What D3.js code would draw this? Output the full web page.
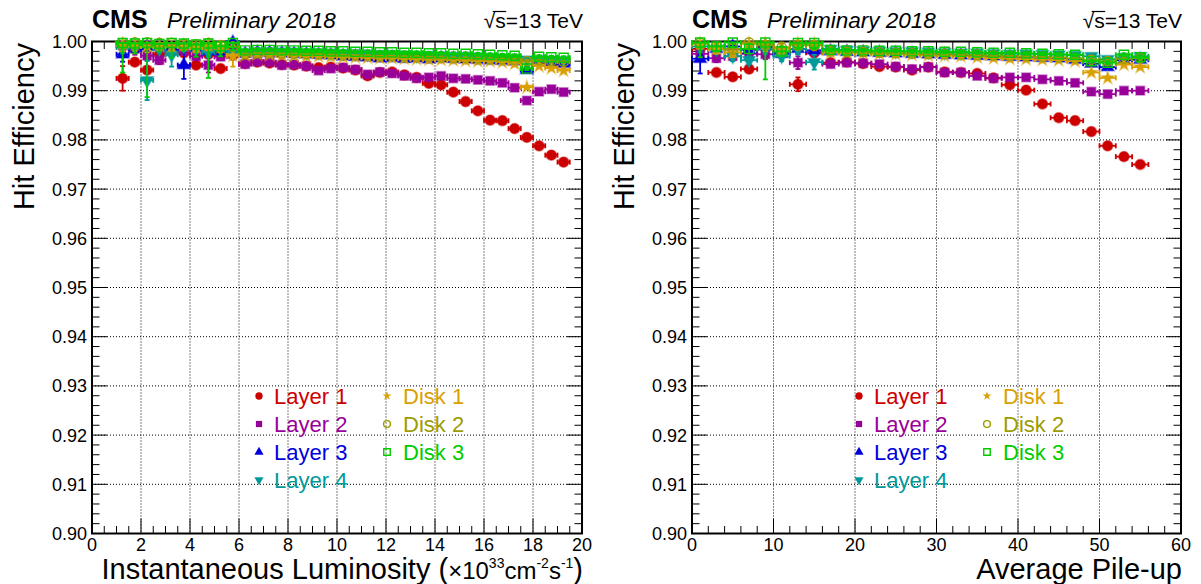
<!DOCTYPE html>
<html><head><meta charset="utf-8">
<script src="https://cdn.jsdelivr.net/npm/d3@7"></script>
<style>
body{margin:0;background:#fff}
text{font-family:"Liberation Sans",Arial,Helvetica,sans-serif}
</style>
</head><body>
<svg id="c" width="1201" height="584"></svg>
<script>
// ---------------- DATA ----------------
const seriesNames=["Layer 1","Layer 2","Layer 3","Layer 4","Disk 1","Disk 2","Disk 3"];
const seriesColors=["#cc0000","#990099","#0000dd","#00999a","#d9a000","#9c9c00","#00cc00"];
const seriesShapes=["circle","square","triangle","triangleDown","star","openCircle","openSquare"];

const yTicksLabels=["0.90","0.91","0.92","0.93","0.94","0.95","0.96","0.97","0.98","0.99","1.00"];

// Left panel: instantaneous luminosity bins (x10^33 cm^-2 s^-1)
const lumiBins=[1.25,1.75,2.25,2.75,3.25,3.75,4.25,4.75,5.25,5.75,6.25,6.75,7.25,7.75,8.25,8.75,9.25,9.75,10.25,10.75,11.25,11.75,12.25,12.75,13.25,13.75,14.25,14.75,15.25,15.75,16.25,16.75,17.25,17.75,18.25,18.75,19.25];
const lumiLayer1=[.9925,.9958,.9942,.9974,.9979,.9977,.9952,.9974,.9945,.9972,.9955,.9958,.9956,.9953,.9952,.9950,.9947,.9948,.9946,.9942,.9930,.9937,.9938,.9932,.9927,.9915,.9912,.9897,.9878,.9859,.9840,.9839,.9823,.9805,.9788,.9769,.9755];
const lumiLayer1Err=[.0025,.0006,.0005,.0008,.0006,.0007,.0005,.0006,.0004,.0005,.0002,.0002,.0002,.0002,.0002,.0002,.0002,.0002,.0002,.0002,.0002,.0002,.0002,.0002,.0002,.0002,.0002,.0002,.0002,.0002,.0002,.0002,.0002,.0002,.0002,.0002,.0002];
const lumiLayer2=[.9992,.9985,.9971,.9962,.9985,.9981,.9970,.9952,.9969,.9978,.9954,.9959,.9958,.9952,.9953,.9950,.9941,.9945,.9947,.9943,.9933,.9938,.9935,.9930,.9925,.9927,.9930,.9925,.9924,.9922,.9920,.9916,.9906,.9880,.9898,.9903,.9897];
const lumiLayer2Err=[.0020,.0012,.0010,.0008,.0010,.0009,.0008,.0015,.0007,.0006,.0002,.0002,.0002,.0002,.0002,.0002,.0002,.0002,.0002,.0002,.0002,.0002,.0002,.0002,.0002,.0002,.0002,.0002,.0002,.0002,.0002,.0002,.0002,.0002,.0002,.0002,.0002];
const lumiLayer3=[.9974,.9986,.9990,.9990,.9985,.9952,.9987,.9980,.9980,.9998,.9975,.9978,.9977,.9976,.9975,.9974,.9973,.9972,.9970,.9969,.9968,.9966,.9967,.9965,.9966,.9964,.9966,.9965,.9964,.9963,.9962,.9961,.9960,.9942,.9958,.9957,.9955];
const lumiLayer3Err=[.0015,.0008,.0010,.0008,.0010,.0028,.0008,.0008,.0007,.0006,.0003,.0003,.0003,.0003,.0003,.0003,.0003,.0003,.0003,.0003,.0003,.0003,.0003,.0003,.0003,.0003,.0003,.0003,.0003,.0003,.0003,.0003,.0003,.0003,.0003,.0003,.0003];
const lumiLayer4=[.9988,.9990,.9921,.9985,.9973,.9990,.9985,.9978,.9985,.9975,.9978,.9980,.9980,.9979,.9979,.9978,.9978,.9977,.9976,.9976,.9975,.9974,.9974,.9973,.9972,.9972,.9971,.9970,.9970,.9969,.9968,.9967,.9966,.9963,.9964,.9963,.9962];
const lumiLayer4Err=[.0012,.0010,.0040,.0008,.0024,.0009,.0008,.0010,.0007,.0008,.0003,.0003,.0003,.0003,.0003,.0003,.0003,.0003,.0003,.0003,.0003,.0003,.0003,.0003,.0003,.0003,.0003,.0003,.0003,.0003,.0003,.0003,.0003,.0003,.0003,.0003,.0003];
const lumiDisk1=[.9995,.9993,.9990,.9992,.9990,.9992,.9988,.9992,.9988,.9971,.9972,.9974,.9973,.9972,.9971,.9970,.9970,.9969,.9968,.9968,.9967,.9966,.9966,.9965,.9964,.9963,.9963,.9962,.9961,.9960,.9960,.9958,.9955,.9907,.9950,.9946,.9941];
const lumiDisk1Err=[.0015,.0012,.0012,.0010,.0010,.0010,.0010,.0010,.0010,.0022,.0003,.0003,.0003,.0003,.0003,.0003,.0003,.0003,.0003,.0003,.0003,.0003,.0003,.0003,.0003,.0003,.0003,.0003,.0003,.0003,.0003,.0003,.0003,.0003,.0003,.0003,.0003];
const lumiDisk2=[.9997,.9998,.9998,.9997,.9997,.9995,.9994,.9997,.9992,.9990,.9975,.9977,.9977,.9976,.9976,.9975,.9975,.9974,.9973,.9973,.9972,.9971,.9971,.9970,.9969,.9969,.9968,.9967,.9967,.9966,.9965,.9964,.9963,.9960,.9962,.9960,.9959];
const lumiDisk2Err=[.0012,.0010,.0010,.0010,.0010,.0010,.0010,.0010,.0010,.0010,.0003,.0003,.0003,.0003,.0003,.0003,.0003,.0003,.0003,.0003,.0003,.0003,.0003,.0003,.0003,.0003,.0003,.0003,.0003,.0003,.0003,.0003,.0003,.0003,.0003,.0003,.0003];
const lumiDisk3=[.9997,.9996,.9997,.9995,.9997,.9996,.9994,.9996,.9990,.9997,.9982,.9983,.9983,.9982,.9982,.9981,.9981,.9980,.9980,.9979,.9979,.9978,.9978,.9977,.9977,.9976,.9976,.9975,.9975,.9974,.9973,.9972,.9971,.9945,.9969,.9968,.9967];
const lumiDisk3Err=[.0060,.0020,.0110,.0015,.0030,.0015,.0025,.0070,.0020,.0015,.0003,.0003,.0003,.0003,.0003,.0003,.0003,.0003,.0003,.0003,.0003,.0003,.0003,.0003,.0003,.0003,.0003,.0003,.0003,.0003,.0003,.0003,.0003,.0003,.0003,.0003,.0003];

// Right panel: average pile-up bins
const puBins=[1,3,5,7,9,11,13,15,17,19,21,23,25,27,29,31,33,35,37,39,41,43,45,47,49,51,53,55];
const puLayer1=[.9985,.9937,.9928,.9944,.9987,.9979,.9913,.9977,.9957,.9958,.9955,.9949,.9948,.9942,.9948,.9938,.9937,.9935,.9926,.9912,.9901,.9873,.9845,.9839,.9817,.9788,.9766,.9750];
const puLayer1Err=[.0015,.0005,.0005,.0006,.0010,.0008,.0014,.0008,.0002,.0002,.0002,.0002,.0002,.0002,.0002,.0002,.0002,.0002,.0002,.0002,.0002,.0002,.0002,.0002,.0002,.0002,.0002,.0002];
const puLayer2=[.9975,.9966,.9970,.9975,.9974,.9978,.9957,.9981,.9954,.9957,.9956,.9954,.9949,.9944,.9948,.9937,.9937,.9930,.9925,.9927,.9927,.9923,.9920,.9916,.9898,.9893,.9900,.9900];
const puLayer2Err=[.0010,.0008,.0008,.0008,.0010,.0008,.0013,.0010,.0002,.0002,.0002,.0002,.0002,.0002,.0002,.0002,.0002,.0002,.0002,.0002,.0002,.0002,.0002,.0002,.0002,.0002,.0002,.0002];
const puLayer3=[.9965,.9985,.9990,.9983,.9990,.9975,.9985,.9982,.9980,.9979,.9978,.9977,.9976,.9975,.9974,.9973,.9972,.9971,.9970,.9969,.9968,.9967,.9966,.9963,.9955,.9948,.9962,.9963];
const puLayer3Err=[.0030,.0010,.0008,.0008,.0010,.0008,.0010,.0008,.0003,.0003,.0003,.0003,.0003,.0003,.0003,.0003,.0003,.0003,.0003,.0003,.0003,.0003,.0003,.0003,.0003,.0003,.0003,.0003];
const puLayer4=[.9990,.9985,.9970,.9962,.9985,.9970,.9985,.9958,.9985,.9983,.9982,.9981,.9980,.9980,.9979,.9978,.9977,.9977,.9976,.9975,.9975,.9974,.9973,.9972,.9970,.9964,.9968,.9970];
const puLayer4Err=[.0012,.0010,.0010,.0008,.0010,.0010,.0010,.0015,.0003,.0003,.0003,.0003,.0003,.0003,.0003,.0003,.0003,.0003,.0003,.0003,.0003,.0003,.0003,.0003,.0003,.0003,.0003,.0003];
const puDisk1=[.9995,.9985,.9978,.9995,.9995,.9985,.9995,.9995,.9978,.9977,.9976,.9975,.9974,.9973,.9972,.9971,.9970,.9968,.9966,.9965,.9964,.9963,.9962,.9960,.9937,.9926,.9953,.9948];
const puDisk1Err=[.0010,.0010,.0010,.0010,.0015,.0010,.0010,.0010,.0003,.0003,.0003,.0003,.0003,.0003,.0003,.0003,.0003,.0003,.0003,.0003,.0003,.0003,.0003,.0003,.0003,.0003,.0003,.0003];
const puDisk2=[.9997,.9990,.9985,.9998,.9993,.9988,.9993,.9992,.9980,.9979,.9979,.9978,.9977,.9976,.9975,.9975,.9974,.9973,.9972,.9971,.9970,.9969,.9968,.9966,.9963,.9960,.9965,.9966];
const puDisk2Err=[.0010,.0010,.0010,.0010,.0010,.0010,.0010,.0010,.0003,.0003,.0003,.0003,.0003,.0003,.0003,.0003,.0003,.0003,.0003,.0003,.0003,.0003,.0003,.0003,.0003,.0003,.0003,.0003];
const puDisk3=[.9998,.9990,.9998,.9985,.9998,.9980,.9997,.9997,.9983,.9982,.9982,.9981,.9981,.9980,.9980,.9979,.9979,.9978,.9977,.9977,.9976,.9975,.9974,.9973,.9960,.9957,.9973,.9968];
const puDisk3Err=[.0030,.0010,.0010,.0010,.0075,.0010,.0012,.0012,.0003,.0003,.0003,.0003,.0003,.0003,.0003,.0003,.0003,.0003,.0003,.0003,.0003,.0003,.0003,.0003,.0003,.0003,.0003,.0003];

// ---------------- DRAWING ----------------
const svg=d3.select("#c");
const Y0=41.5, Y1=533.5;

function symPath(shape,size){
  const t={circle:d3.symbolCircle,square:d3.symbolSquare,triangle:d3.symbolTriangle,
    triangleDown:d3.symbolTriangle,star:d3.symbolStar,openCircle:d3.symbolCircle,openSquare:d3.symbolSquare}[shape];
  return d3.symbol().type(t).size(size)();
}
const baseSize={circle:82,square:74,triangle:70,triangleDown:70,star:48,openCircle:70,openSquare:82};
function drawMarker(g,shape,color,cx,cy,scale){
  const open=shape.startsWith("open");
  const p=g.append("path").attr("d",symPath(shape,baseSize[shape]*scale*scale))
    .attr("transform",`translate(${cx},${cy})`+(shape==="triangleDown"?" rotate(180)":""));
  if(open){p.attr("fill","none").attr("stroke",color).attr("stroke-width",1.4);}
  else{p.attr("fill",color).attr("stroke",color).attr("stroke-opacity",scale<1?0:0.45).attr("stroke-width",1.6);}
}

function drawPanel(p){
  const g=svg.append("g");
  const x=d3.scaleLinear().domain(p.xDomain).range([p.x0,p.x1]);
  const y=d3.scaleLinear().domain([0.90,1.00]).range([Y1,Y0]);
  const xMaj=x.ticks(p.majorCount), xMin=x.ticks(p.minorCount);
  const yMaj=y.ticks(10), yMin=y.ticks(50);
  const isIn=(arr,v)=>arr.some(m=>Math.abs(m-v)<1e-9);

  // grid
  xMaj.slice(1,-1).forEach(v=>g.append("line").attr("x1",x(v)).attr("x2",x(v)).attr("y1",Y0).attr("y2",Y1)
    .attr("stroke","#000").attr("stroke-width",1).attr("stroke-dasharray","1,2"));
  yMaj.slice(1,-1).forEach(v=>g.append("line").attr("x1",p.x0).attr("x2",p.x1).attr("y1",y(v)).attr("y2",y(v))
    .attr("stroke","#000").attr("stroke-width",1).attr("stroke-dasharray","1,2"));

  // ticks
  const tk=g.append("g").attr("stroke","#000").attr("stroke-width",1);
  xMin.forEach(v=>{const L=isIn(xMaj,v)?15:7.5;
    tk.append("line").attr("x1",x(v)).attr("x2",x(v)).attr("y1",Y1).attr("y2",Y1-L);
    tk.append("line").attr("x1",x(v)).attr("x2",x(v)).attr("y1",Y0).attr("y2",Y0+L);});
  yMin.forEach(v=>{const L=isIn(yMaj,v)?15:7.5;
    tk.append("line").attr("x1",p.x0).attr("x2",p.x0+L).attr("y1",y(v)).attr("y2",y(v));
    tk.append("line").attr("x1",p.x1).attr("x2",p.x1-L).attr("y1",y(v)).attr("y2",y(v));});
  g.append("rect").attr("x",p.x0).attr("y",Y0).attr("width",p.x1-p.x0).attr("height",Y1-Y0)
    .attr("fill","none").attr("stroke","#000").attr("stroke-width",2);

  // tick labels
  yMaj.forEach((v,i)=>g.append("text").attr("x",p.x0-5).attr("y",y(v)+6.5).attr("text-anchor","end")
    .attr("font-size",18).text(yTicksLabels[i]));
  xMaj.forEach(v=>g.append("text").attr("x",x(v)).attr("y",551).attr("text-anchor","middle")
    .attr("font-size",18).text(d3.format("d")(v)));

  // axis titles
  g.append("text").attr("transform",`translate(${p.yTitleX},43) rotate(-90)`).attr("text-anchor","end")
    .attr("font-size",29).text("Hit Efficiency");
  p.xTitle(g);

  // header
  g.append("text").attr("x",p.x0).attr("y",28).attr("font-size",25).attr("font-weight","bold").text("CMS");
  g.append("text").attr("x",p.prelimX).attr("y",28).attr("font-size",22.5).attr("font-style","italic").text("Preliminary 2018");
  const st=g.append("text").attr("x",p.x1+1).attr("y",28).attr("text-anchor","end").attr("font-size",21).text("\u221As=13 TeV");
  const n=st.node();
  const s1=n.getEndPositionOfChar(1).x;
  const r0=n.getStartPositionOfChar(0).x;
  g.append("line").attr("x1",r0+9).attr("x2",s1+0.5).attr("y1",11.5).attr("y2",11.5).attr("stroke","#000").attr("stroke-width",1.2);

  // series
  const dg=g.append("g");
  p.series.forEach((s,si)=>{
    const col=seriesColors[si], shape=seriesShapes[si];
    const eg=dg.append("g").attr("stroke",col).attr("stroke-width",1.8).attr("fill","none");
    p.xs.forEach((xv,i)=>{
      const v=s.vals[i], e=s.errs[i];
      const cx=x(xv), cy=y(v);
      const xl=x(xv-p.halfWidth), xr=x(xv+p.halfWidth);
      eg.append("line").attr("x1",xl).attr("x2",xr).attr("y1",cy).attr("y2",cy);
      eg.append("line").attr("x1",xl).attr("x2",xl).attr("y1",cy-2.5).attr("y2",cy+2.5);
      eg.append("line").attr("x1",xr).attr("x2",xr).attr("y1",cy-2.5).attr("y2",cy+2.5);
      const yt=y(Math.min(v+e,1.0)), yb=y(v-e);
      eg.append("line").attr("x1",cx).attr("x2",cx).attr("y1",yt).attr("y2",yb);
      if(v+e<1.0) eg.append("line").attr("x1",cx-2.5).attr("x2",cx+2.5).attr("y1",yt).attr("y2",yt);
      eg.append("line").attr("x1",cx-2.5).attr("x2",cx+2.5).attr("y1",yb).attr("y2",yb);
    });
    const mg=dg.append("g");
    p.xs.forEach((xv,i)=>drawMarker(mg,shape,col,x(xv),y(s.vals[i]),1));
  });

  // legend
  const rows=[396,424,452,480];
  seriesNames.forEach((name,i)=>{
    const col=i<4?0:1, row=i<4?i:i-4;
    drawMarker(g,seriesShapes[i],seriesColors[i],p.legMarkX[col],rows[row],0.72);
    g.append("text").attr("x",p.legTextX[col]).attr("y",rows[row]+7.5).attr("font-size",22)
      .attr("fill",seriesColors[i]).text(name);
  });
}

drawPanel({
  x0:92,x1:582,xDomain:[0,20],majorCount:10,minorCount:40,halfWidth:0.25,xs:lumiBins,
  prelimX:167,yTitleX:34,legMarkX:[259,387],legTextX:[274,403],
  series:[{vals:lumiLayer1,errs:lumiLayer1Err},{vals:lumiLayer2,errs:lumiLayer2Err},{vals:lumiLayer3,errs:lumiLayer3Err},
    {vals:lumiLayer4,errs:lumiLayer4Err},{vals:lumiDisk1,errs:lumiDisk1Err},{vals:lumiDisk2,errs:lumiDisk2Err},{vals:lumiDisk3,errs:lumiDisk3Err}],
  xTitle:g=>{
    const t=g.append("text").attr("x",583).attr("y",579).attr("text-anchor","end").attr("font-size",29);
    t.append("tspan").text("Instantaneous Luminosity ");
    t.append("tspan").text("(");
    t.append("tspan").attr("font-size",24).text("\u00D710");
    t.append("tspan").attr("font-size",14).attr("dy",-11).text("33");
    t.append("tspan").attr("font-size",24).attr("dy",11).text("cm");
    t.append("tspan").attr("font-size",14).attr("dy",-11).text("-2");
    t.append("tspan").attr("font-size",24).attr("dy",11).text("s");
    t.append("tspan").attr("font-size",14).attr("dy",-11).text("-1");
    t.append("tspan").attr("dy",11).text(")");
  }
});
drawPanel({
  x0:692,x1:1181,xDomain:[0,60],majorCount:6,minorCount:30,halfWidth:1,xs:puBins,
  prelimX:767,yTitleX:634,legMarkX:[859,987],legTextX:[874,1003],
  series:[{vals:puLayer1,errs:puLayer1Err},{vals:puLayer2,errs:puLayer2Err},{vals:puLayer3,errs:puLayer3Err},
    {vals:puLayer4,errs:puLayer4Err},{vals:puDisk1,errs:puDisk1Err},{vals:puDisk2,errs:puDisk2Err},{vals:puDisk3,errs:puDisk3Err}],
  xTitle:g=>{
    g.append("text").attr("x",1182).attr("y",579).attr("text-anchor","end").attr("font-size",29).text("Average Pile-up");
  }
});
</script>
</body></html>
